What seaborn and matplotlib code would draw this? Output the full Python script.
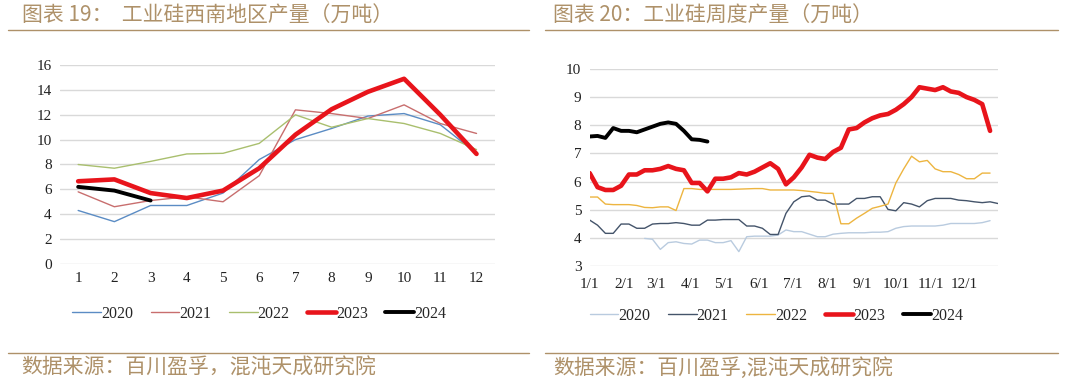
import numpy as np
import pandas as pd
import seaborn as sns
import matplotlib.pyplot as plt
from matplotlib.lines import Line2D

# ---- 图表19: 西南地区月度产量 (万吨) ----
months = list(range(1, 13))
sw_2020 = [4.3, 3.4, 4.7, 4.7, 5.7, 8.4, 10.0, 10.9, 11.9, 12.1, 11.2, 8.9]
sw_2021 = [5.8, 4.6, 5.1, 5.4, 5.0, 7.1, 12.4, 12.1, 11.7, 12.8, 11.3, 10.5]
sw_2022 = [8.0, 7.7, 8.25, 8.85, 8.9, 9.7, 12.0, 11.0, 11.7, 11.3, 10.5, 9.2]
sw_2023 = [6.65, 6.8, 5.7, 5.3, 5.9, 7.7, 10.4, 12.45, 13.85, 14.9, 12.0, 8.85]
sw_2024 = [6.2, 5.9, 5.1]

# ---- 图表20: 周度产量 (万吨), 按周序号 ----
wk_2020_start = 7
wk_2020 = [3.98, 3.95, 3.59, 3.83, 3.86, 3.8, 3.78, 3.92, 3.92, 3.83,
           3.83, 3.9, 3.51, 4.04, 4.06, 4.06, 4.06, 4.1, 4.28, 4.22,
           4.22, 4.13, 4.04, 4.04, 4.13, 4.16, 4.18, 4.18, 4.18, 4.2,
           4.2, 4.22, 4.34, 4.4, 4.42, 4.42, 4.42, 4.42, 4.45, 4.51,
           4.51, 4.51, 4.51, 4.54, 4.61]
wk_2021 = [4.63, 4.45, 4.16, 4.16, 4.49, 4.49, 4.34, 4.34, 4.49, 4.51,
           4.51, 4.54, 4.51, 4.45, 4.45, 4.63, 4.63, 4.65, 4.65, 4.65,
           4.42, 4.42, 4.34, 4.12, 4.12, 4.87, 5.28, 5.46, 5.49, 5.34,
           5.34, 5.2, 5.2, 5.2, 5.4, 5.4, 5.46, 5.46, 5.01, 4.96,
           5.25, 5.2, 5.1, 5.32, 5.4, 5.4, 5.4, 5.34, 5.32, 5.28,
           5.25, 5.28, 5.22]
wk_2022 = [5.45, 5.45, 5.2, 5.18, 5.18, 5.18, 5.15, 5.08, 5.07, 5.1,
           5.1, 4.97, 5.75, 5.75, 5.72, 5.72, 5.72, 5.72, 5.72, 5.73,
           5.74, 5.75, 5.75, 5.7, 5.7, 5.7, 5.7, 5.68, 5.65, 5.62,
           5.58, 5.58, 4.5, 4.5, 4.7, 4.87, 5.05, 5.12, 5.2, 5.95,
           6.45, 6.9, 6.7, 6.75, 6.45, 6.35, 6.35, 6.25, 6.1, 6.1,
           6.3, 6.3]
wk_2023 = [6.3, 5.8, 5.7, 5.7, 5.85, 6.25, 6.25, 6.4, 6.4, 6.45,
           6.55, 6.45, 6.4, 5.95, 5.95, 5.65, 6.1, 6.1, 6.15, 6.3,
           6.25, 6.35, 6.5, 6.65, 6.45, 5.9, 6.15, 6.5, 6.95, 6.85,
           6.8, 7.05, 7.2, 7.85, 7.9, 8.1, 8.25, 8.35, 8.4, 8.55,
           8.75, 9.0, 9.35, 9.3, 9.25, 9.35, 9.2, 9.15, 9.0, 8.9,
           8.75, 7.8]
wk_2024 = [7.6, 7.62, 7.55, 7.9, 7.8, 7.8, 7.75, 7.85, 7.95, 8.05,
           8.1, 8.05, 7.8, 7.5, 7.48, 7.42]

month_labels = ["1/1", "2/1", "3/1", "4/1", "5/1", "6/1",
                "7/1", "8/1", "9/1", "10/1", "11/1", "12/1"]
month_start_day = [0, 31, 59, 90, 120, 151, 181, 212, 243, 273, 304, 334]

years = ["2020", "2021", "2022", "2023", "2024"]
left_colors = ["#5B8CC4", "#C86E6E", "#A9BF6E", "#E8141B", "#000000"]
right_colors = ["#B9CBDF", "#44546A", "#EDB540", "#E8141B", "#000000"]
widths = [1.0, 1.0, 1.0, 3.3, 2.8]

TAN = "#AE9169"
GRID = "#D9D9D9"

sns.set_theme(style="white")
plt.rcParams["font.family"] = ["Noto Sans CJK SC", "DejaVu Sans"]

fig = plt.figure(figsize=(10.8, 3.83), dpi=100)


def style_axes(ax):
    for s in ax.spines.values():
        s.set_visible(False)
    ax.grid(axis="y", color=GRID, linewidth=1.0)
    ax.set_axisbelow(True)
    ax.tick_params(length=0, labelsize=11, pad=6)
    for lab in ax.get_xticklabels() + ax.get_yticklabels():
        lab.set_fontfamily("Liberation Serif")
        lab.set_color("#222222")
    ax.set_xlabel("")
    ax.set_ylabel("")


def add_legend(ax, colors, x, y):
    handles = [Line2D([0], [0], color=c, lw=w) for c, w in zip(colors, widths)]
    ax.legend(handles, years, loc="center", bbox_to_anchor=(x, y),
              bbox_transform=fig.transFigure, ncol=5, frameon=False,
              handlelength=1.8, handletextpad=0.0, columnspacing=1.1,
              prop={"family": "Liberation Serif", "size": 11.5})


# ---- left chart ----
ax1 = fig.add_axes([0.0556, 0.311, 0.4024, 0.519])
left_series = [sw_2020, sw_2021, sw_2022, sw_2023, sw_2024]
for yr, vals, c, w in zip(years, left_series, left_colors, widths):
    df = pd.DataFrame({"month": months[:len(vals)], "value": vals})
    sns.lineplot(data=df, x="month", y="value", ax=ax1, color=c, linewidth=w)
ax1.set_xlim(0.5, 12.5)
ax1.set_ylim(0, 16)
ax1.set_yticks(range(0, 17, 2))
ax1.set_xticks(months)
style_axes(ax1)
add_legend(ax1, left_colors, 0.240, 0.180)

# ---- right chart ----
ax2 = fig.add_axes([0.546, 0.3055, 0.378, 0.5145])
right_series = [(wk_2020_start, wk_2020), (0, wk_2021), (0, wk_2022),
                (0, wk_2023), (0, wk_2024)]
for yr, (start, vals), c, w in zip(years, right_series, right_colors, widths):
    df = pd.DataFrame({"week": np.arange(start, start + len(vals)), "value": vals})
    sns.lineplot(data=df, x="week", y="value", ax=ax2, color=c, linewidth=w)
ax2.set_xlim(0, 52)
ax2.set_ylim(3, 10)
ax2.set_yticks(range(3, 11))
ax2.set_xticks([d / 7 for d in month_start_day])
ax2.set_xticklabels(month_labels)
style_axes(ax2)
ax2.tick_params(axis="x", pad=9)
add_legend(ax2, right_colors, 0.719, 0.175)

# ---- titles, rules and sources ----
fig.text(0.020, 0.960, "图表 19：  工业硅西南地区产量（万吨）", color=TAN,
         fontsize=15, va="center", ha="left")
fig.text(0.512, 0.960, "图表 20：工业硅周度产量（万吨）", color=TAN,
         fontsize=15, va="center", ha="left")
for x0, x1 in [(0.007, 0.49), (0.505, 0.98)]:
    fig.add_artist(Line2D([x0, x1], [0.921, 0.921], color=TAN, lw=1.0,
                          transform=fig.transFigure))
    fig.add_artist(Line2D([x0, x1], [0.078, 0.078], color=TAN, lw=1.0,
                          transform=fig.transFigure))
fig.text(0.020, 0.040, "数据来源：百川盈孚，混沌天成研究院", color=TAN,
         fontsize=15, va="center", ha="left")
fig.text(0.512, 0.040, "数据来源：百川盈孚,混沌天成研究院", color=TAN,
         fontsize=15, va="center", ha="left")

fig.savefig("out.png", dpi=100, facecolor="white")
